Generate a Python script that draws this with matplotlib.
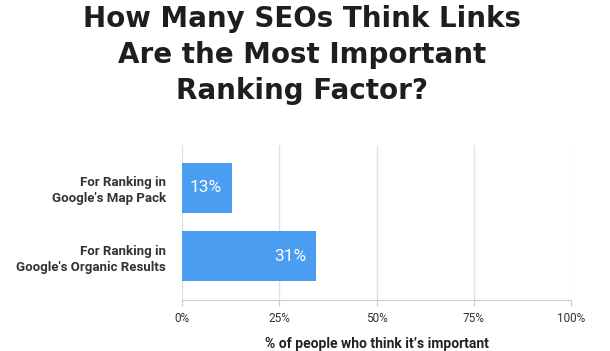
import matplotlib.pyplot as plt
import numpy as np

categories = ["For Ranking in\nGoogle's Map Pack", "For Ranking in\nGoogle's Organic Results"]
bar_lengths = [12.9, 34.5]
bar_labels = ["13%", "31%"]
ticks = [0, 25, 50, 75, 100]
tick_labels = ["0%", "25%", "50%", "75%", "100%"]

plt.rcParams['font.family'] = ['Roboto', 'DejaVu Sans']

fig = plt.figure(figsize=(6.1, 3.51), dpi=100)
ax = fig.add_axes([0.2984, 0.1453, 0.6377, 0.4416])

y = np.arange(len(categories))
ax.barh(y, bar_lengths, height=0.73, color='#4a9df0', zorder=3)
for yi, v, lab in zip(y, bar_lengths, bar_labels):
	ax.text(v - 2.6, yi, lab, ha='right', va='center', color='white', fontsize=12.5, zorder=4)

ax.set_xlim(0, 100)
ax.set_ylim(1.644, -0.625)
ax.set_xticks(ticks)
ax.set_xticklabels(tick_labels, fontsize=8.5, color='#333333')
ax.set_yticks(y)
ax.set_yticklabels(categories, fontsize=9.5, fontweight='bold', color='#333333', linespacing=1.3)
ax.tick_params(axis='y', length=0, pad=11.5)
ax.tick_params(axis='x', length=4, color='#cccccc', pad=5)
ax.grid(axis='x', color='#e2e2e2', linewidth=1, zorder=0)
for s in ['top', 'right', 'left']:
	ax.spines[s].set_visible(False)
ax.spines['bottom'].set_color('#cccccc')
ax.set_xlabel("% of people who think it\u2019s important", fontsize=10, fontweight='bold', color='#222222', labelpad=8)

fig.text(0.495, 0.985, "How Many SEOs Think Links\nAre the Most Important\nRanking Factor?", ha='center', va='top',
	fontsize=20, fontweight='bold', color='#1e1e1e', linespacing=1.35, family='DejaVu Sans')

fig.savefig('out.png', dpi=100)
